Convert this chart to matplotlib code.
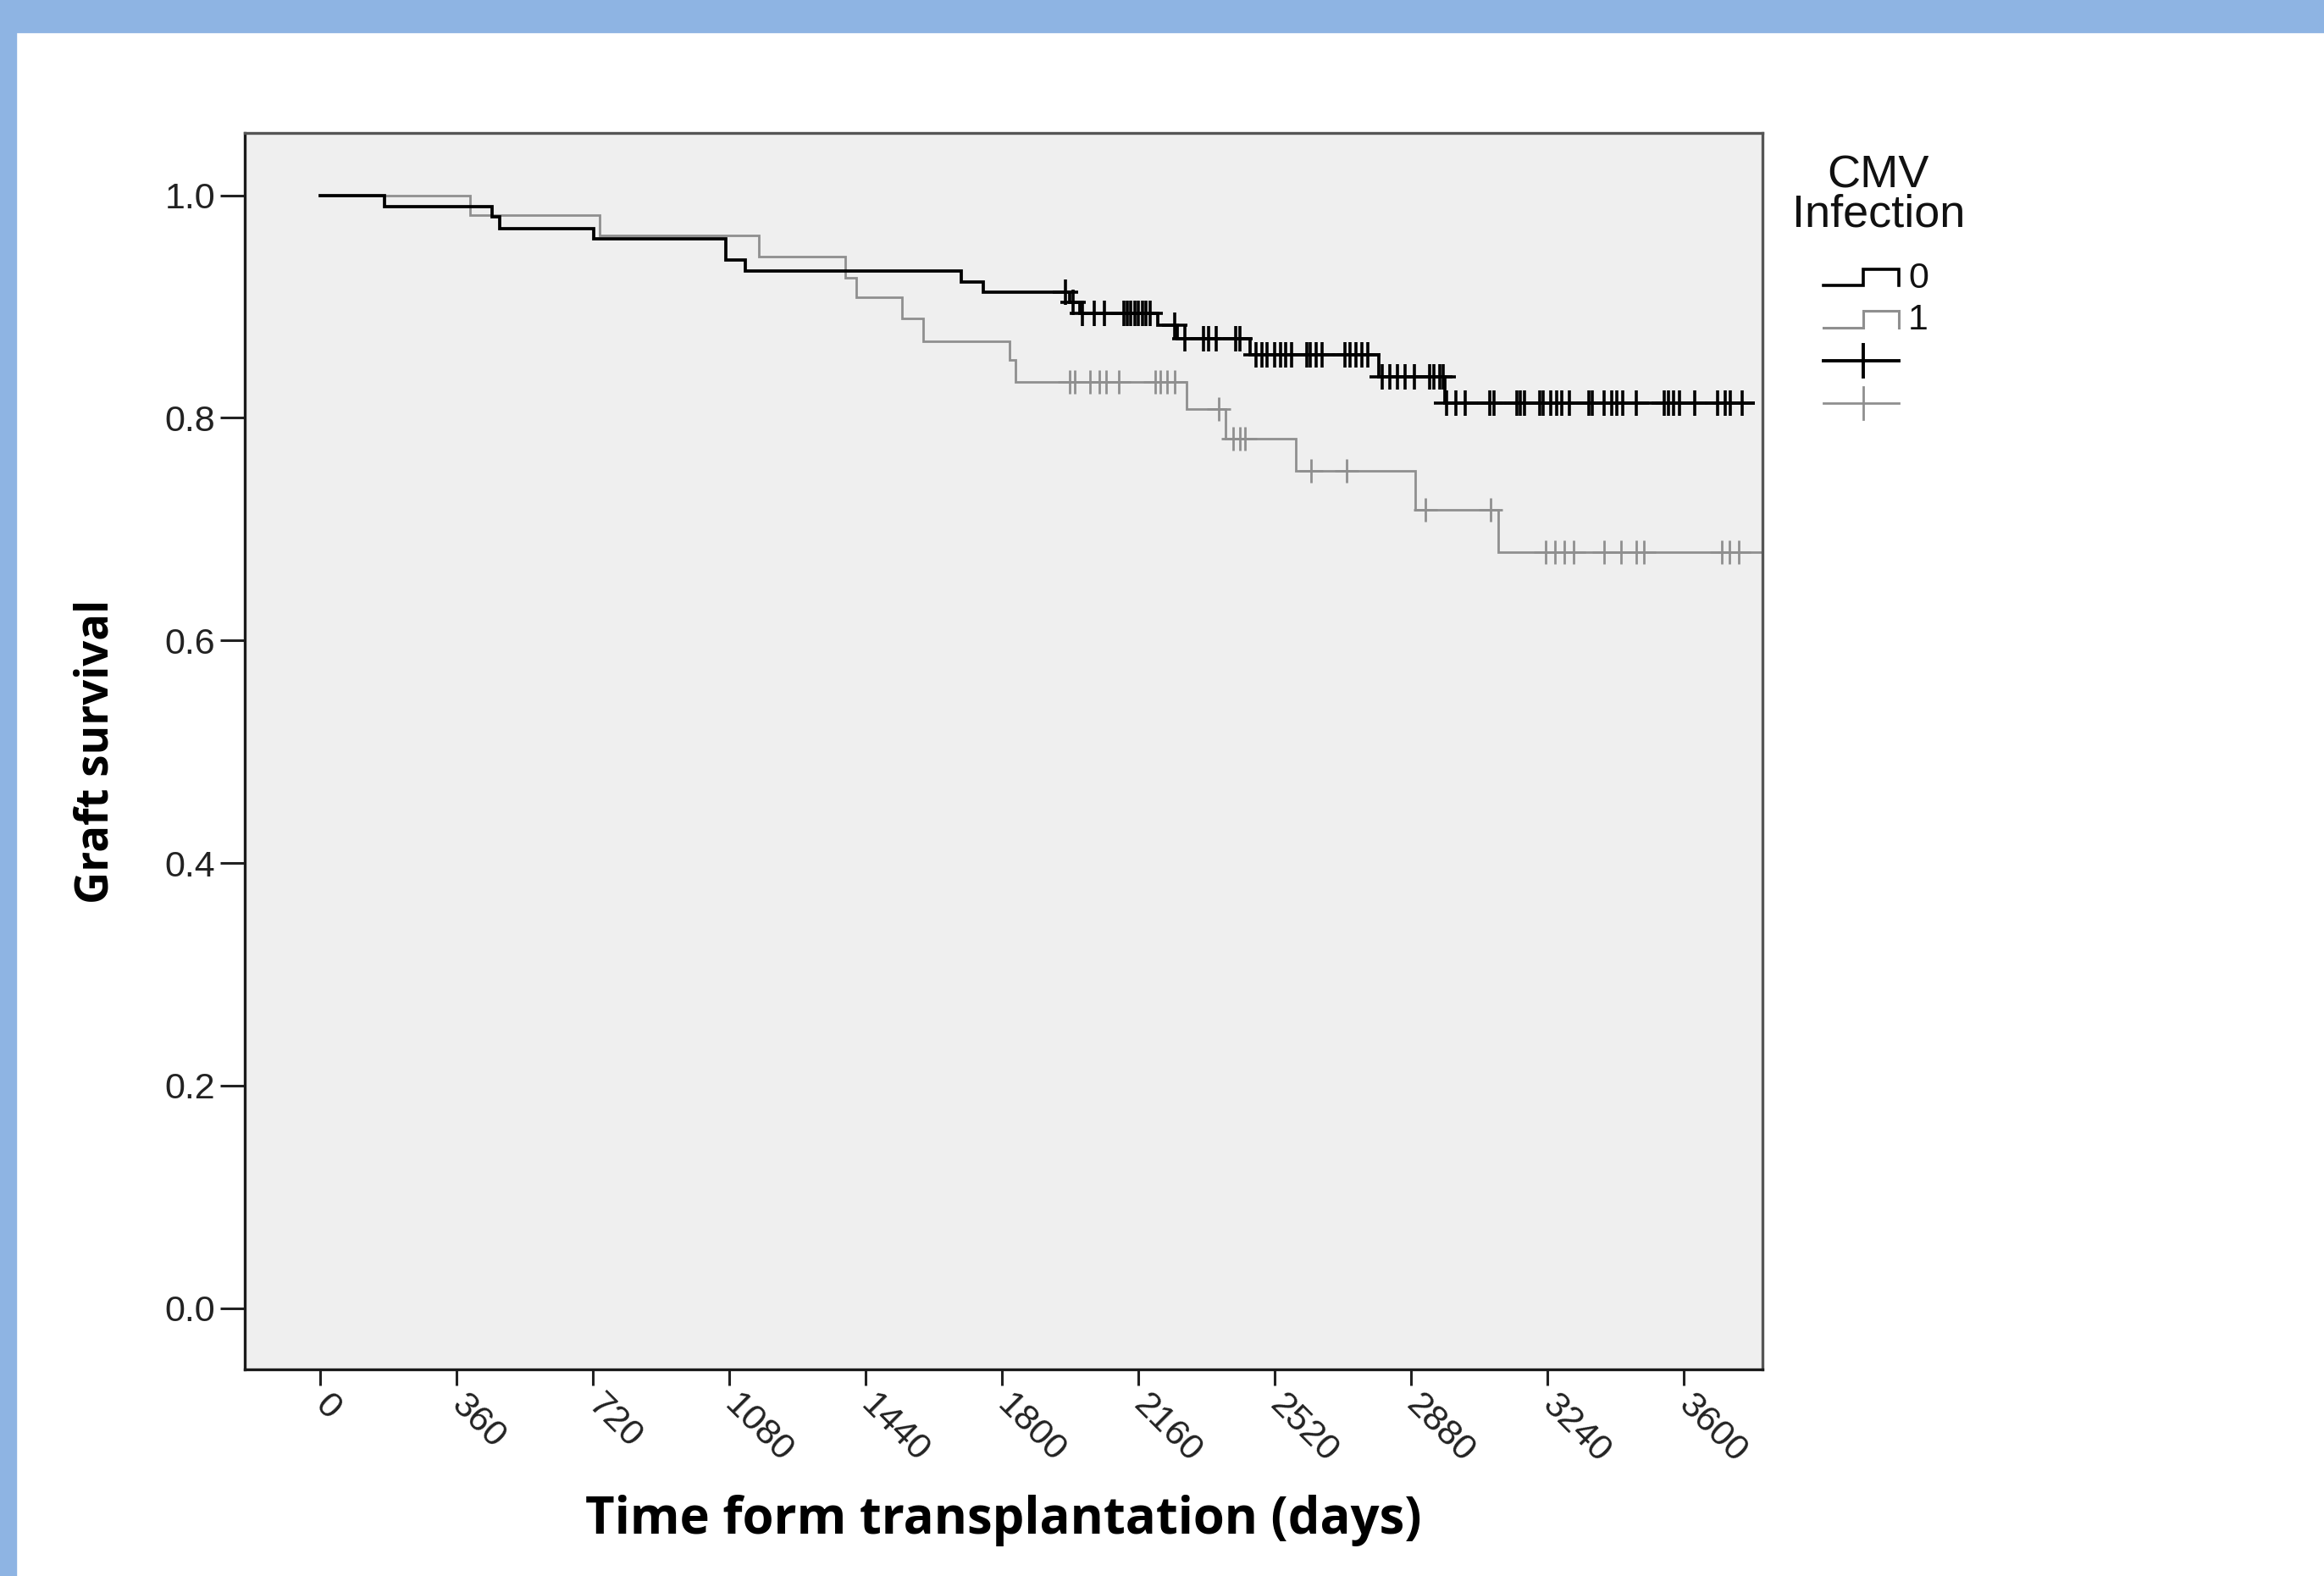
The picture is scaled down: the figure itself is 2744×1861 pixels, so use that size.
import numpy as np
import matplotlib
matplotlib.use("Agg")
import matplotlib.pyplot as plt
from matplotlib.patches import Rectangle
from matplotlib.lines import Line2D

plt.rcParams["font.family"] = ["Liberation Sans", "DejaVu Sans"]

# --- Kaplan-Meier steps (days, survival) ---
# CMV infection = 0 (black)
times0 = [0, 169, 454, 472, 722, 1071, 1121, 1692, 1749, 1979, 2005,
          2210, 2262, 2454, 2795, 2968]
surv0 = [1.0, 0.990, 0.981, 0.970, 0.961, 0.942, 0.932, 0.922, 0.913,
         0.904, 0.894, 0.883, 0.871, 0.857, 0.837, 0.813]
end0 = 3783
cens0 = [1966, 1986, 2011, 2043, 2069, 2120, 2130, 2140, 2150, 2160, 2170,
         2180, 2190, 2255, 2281, 2332, 2345, 2364, 2416, 2428, 2470, 2486,
         2500, 2519, 2534, 2549, 2564, 2604, 2614, 2629, 2644, 2704, 2719,
         2734, 2749, 2764, 2804, 2824, 2844, 2864, 2889, 2929, 2939, 2954,
         2964, 2973, 2998, 3023, 3088, 3098, 3158, 3168, 3178, 3218, 3228,
         3248, 3263, 3278, 3298, 3348, 3358, 3388, 3408, 3423, 3438, 3473,
         3548, 3558, 3573, 3588, 3628, 3688, 3708, 3723, 3753]

# CMV infection = 1 (grey)
times1 = [0, 394, 736, 1157, 1385, 1414, 1535, 1592, 1820, 1834, 2287,
          2390, 2576, 2890, 3109]
surv1 = [1.0, 0.982, 0.964, 0.945, 0.926, 0.908, 0.889, 0.869, 0.852,
         0.832, 0.808, 0.781, 0.752, 0.717, 0.679]
end1 = 3810
cens1 = [1979, 1992, 2031, 2056, 2075, 2108, 2204, 2217, 2236, 2255, 2371,
         2409, 2428, 2441, 2615, 2708, 2916, 3090, 3234, 3259, 3284, 3309,
         3389, 3434, 3474, 3494, 3699, 3719, 3744]

xticks = [0, 360, 720, 1080, 1440, 1800, 2160, 2520, 2880, 3240, 3600]
yticks = [0.0, 0.2, 0.4, 0.6, 0.8, 1.0]

W, H = 2744, 1861
DPI = 100
BLACK = "#000000"
GREY = "#8f8f8f"

fig = plt.figure(figsize=(W / DPI, H / DPI), dpi=DPI, facecolor="white")

# light blue frame (top and left edges of the slide)
fig.patches.append(Rectangle((0, 1 - 38 / H), 1, 38 / H, transform=fig.transFigure,
                             color="#8EB4E3", zorder=0))
fig.patches.append(Rectangle((0, 0), 19 / W, 1, transform=fig.transFigure,
                             color="#8EB4E3", zorder=0))

ax = fig.add_axes([289 / W, 1 - 1617 / H, (2081 - 289) / W, (1617 - 157) / H])
ax.set_facecolor("#EFEFEF")


def km_curve(times, surv, end, cens, color, lw, ms, mew):
    xs = np.append(times, end)
    ys = np.append(surv, surv[-1])
    ax.step(xs, ys, where="post", color=color, lw=lw, solid_joinstyle="miter")
    idx = np.searchsorted(times, cens, side="right") - 1
    cy = np.asarray(surv)[idx]
    ax.plot(cens, cy, linestyle="none", marker="+", ms=ms, mew=mew, color=color)


km_curve(times1, surv1, end1, cens1, GREY, 2.0, 20, 2.0)
km_curve(times0, surv0, end0, cens0, BLACK, 2.7, 21, 2.6)

ax.set_xlim(-200, 3807)
ax.set_ylim(-0.055, 1.056)

ax.set_yticks(yticks)
ax.set_yticklabels([f"{v:.1f}" for v in yticks], fontsize=31, color="#222222")
ax.set_xticks(xticks)
ax.set_xticklabels([str(v) for v in xticks], fontsize=31, color="#222222",
                   rotation=-45, ha="left", va="center", rotation_mode="anchor")
ax.tick_params(axis="y", length=21, width=2.2, pad=4, color="#222222")
ax.tick_params(axis="x", length=14, width=2.2, pad=12, color="#222222")

for side in ["left", "bottom"]:
    ax.spines[side].set_linewidth(2.4)
    ax.spines[side].set_color("#1a1a1a")
for side in ["top", "right"]:
    ax.spines[side].set_linewidth(2.4)
    ax.spines[side].set_color("#555555")

ax.set_xlabel("Time form transplantation (days)", fontsize=43,
              fontweight="bold", family=["Open Sans", "DejaVu Sans"])
ax.xaxis.set_label_coords(0.5, -0.122)
ax.xaxis.label.set_va("center")
ax.set_ylabel("Graft survival", fontsize=38, fontweight="bold",
              family=["Open Sans", "DejaVu Sans"])
ax.yaxis.set_label_coords(-0.098, 0.5)
ax.yaxis.label.set_va("center")

# --- legend drawn by hand in pixel space, SPSS style ---
lax = fig.add_axes([0, 0, 1, 1], facecolor="none")
lax.set_xlim(0, W)
lax.set_ylim(H, 0)
lax.axis("off")

lax.text(2218, 207, "CMV", fontsize=39, ha="center", va="center", color="#111111")
lax.text(2218, 254, "Infection", fontsize=39, ha="center", va="center", color="#111111")

x0, xm, x1 = 2153, 2200, 2242
for (ylo, yhi, col, lw, lab) in [(337, 318, BLACK, 2.6, "0"), (387, 367, GREY, 2.2, "1")]:
    lax.add_line(Line2D([x0, xm, xm, x1, x1], [ylo, ylo, yhi, yhi, ylo],
                        color=col, lw=lw, solid_joinstyle="miter"))
    lax.text(2253, (ylo + yhi) / 2 + 1, lab, fontsize=31, ha="left", va="center",
             color="#111111")
for (yc, col, lw) in [(426, BLACK, 2.8), (476, GREY, 2.0)]:
    lax.add_line(Line2D([x0, x1], [yc, yc], color=col, lw=lw))
    lax.add_line(Line2D([xm, xm], [yc - 19, yc + 19], color=col, lw=lw))

fig.savefig("out.png", dpi=DPI, facecolor="white")
